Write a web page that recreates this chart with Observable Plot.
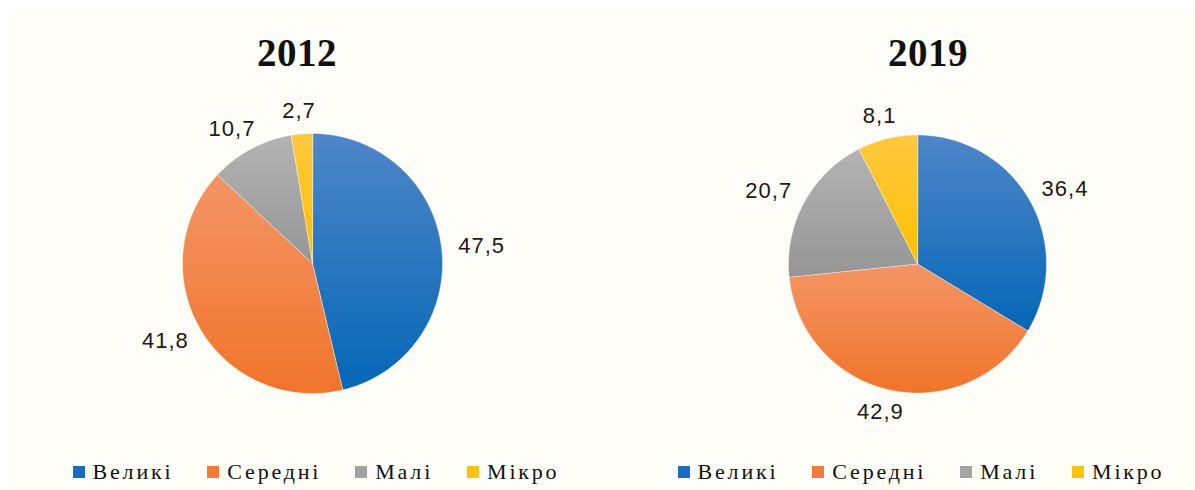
<!DOCTYPE html>
<html><head><meta charset="utf-8">
<script src="https://cdn.jsdelivr.net/npm/d3@7"></script>
<script src="https://cdn.jsdelivr.net/npm/@observablehq/plot@0.6"></script>
<style>
body{margin:0;background:#fff;width:1195px;height:490px;overflow:hidden;position:relative;font-family:"Liberation Serif",serif}
#frame{position:absolute;left:7px;top:10px;width:1188px;height:480px;background:#fffdf7}
.title{position:absolute;font-family:"Liberation Serif",serif;font-weight:bold;font-size:39px;line-height:39px;text-align:center;width:200px;color:#111;letter-spacing:0.5px}
.legend{position:absolute;width:600px;height:20px;display:flex;justify-content:center;align-items:center;gap:34px;font-family:"Liberation Serif","Times New Roman",serif;font-size:22px;line-height:20px;color:#111;white-space:nowrap}
.legend .sw{width:12px;height:12px;margin-right:8px;display:inline-block}
.legend .item{display:flex;align-items:center}
</style></head><body>
<div id="frame"></div>
<script>
// ---- data ----
const categories = ["Великі", "Середні", "Малі", "Мікро"];
const years = ["2012", "2019"];
const values2012 = [47.5, 41.8, 10.7, 2.7];
const values2019 = [36.4, 42.9, 20.7, 8.1];

// ---- styles / layout ----
const gradients = [["#4f86c8", "#0467b6"], ["#f49565", "#f0742a"], ["#b4b4b4", "#959595"], ["#ffc840", "#ffc000"]];
const swatches = ["#1a6dbd", "#f07c3c", "#a3a3a3", "#ffc20e"];
const panels = [
  {year: years[0], values: values2012, left: 0, W: 597, cx: 312, cy: 173, R: 130, titleCx: 297, legendCx: 316, ls: 2.8},
  {year: years[1], values: values2019, left: 597, W: 598, cx: 320, cy: 173.5, R: 129, titleCx: 928, legendCx: 921, ls: 2.8}
];
const H = 350;
const fmt = v => v.toFixed(1).replace(".", ",");

for (const p of panels) {
  const arcs = d3.pie().sort(null).startAngle(0).endAngle(2 * Math.PI)(p.values);
  const marks = [];
  arcs.forEach((a, i) => {
    const pts = [{x: 0, y: 0}];
    const n = Math.max(2, Math.ceil((a.endAngle - a.startAngle) / 0.01));
    for (let k = 0; k <= n; k++) {
      const t = a.startAngle + (a.endAngle - a.startAngle) * k / n;
      pts.push({x: Math.sin(t), y: Math.cos(t)});
    }
    marks.push(Plot.line(pts, {x: "x", y: "y", curve: "linear-closed",
      fill: `url(#g${p.year}-${i})`, stroke: "#ffffff", strokeWidth: 0.6, strokeOpacity: 0.7}));
  });
  const g = 12, h = 22;
  const labels = arcs.map((a, i) => {
    const m = (a.startAngle + a.endAngle) / 2;
    const s = Math.sin(m), c = Math.cos(m);
    const text = fmt(p.values[i]);
    const w = text.length * 11.8;
    const r = 1 + g / p.R;
    return {x: r * s + s * w * 0.6 / p.R, y: r * c + c * h / 2 / p.R, text};
  });
  marks.push(Plot.text(labels, {x: "x", y: "y", text: "text", fontFamily: "Liberation Sans, Arial, sans-serif",
    fontSize: 22, fill: "#1a1a1a", textAnchor: "middle", lineAnchor: "middle"}));

  const svg = Plot.plot({
    width: p.W, height: H, margin: 0,
    x: {domain: [-p.cx / p.R, (p.W - p.cx) / p.R], range: [0, p.W], axis: null},
    y: {domain: [-(H - p.cy) / p.R, p.cy / p.R], range: [H, 0], axis: null},
    style: {background: "transparent", letterSpacing: "1px", overflow: "visible"},
    marks
  });
  const defs = d3.select(svg).insert("defs", ":first-child");
  gradients.forEach((gc, i) => {
    const lg = defs.append("linearGradient").attr("id", `g${p.year}-${i}`)
      .attr("x1", 0).attr("y1", 0).attr("x2", 0).attr("y2", 1);
    lg.append("stop").attr("offset", 0).attr("stop-color", gc[0]);
    lg.append("stop").attr("offset", 1).attr("stop-color", gc[1]);
  });
  svg.style.left = p.left + "px";
  svg.style.top = "90px";
  svg.style.position = "absolute";
  document.body.appendChild(svg);

  const title = document.createElement("div");
  title.className = "title";
  title.textContent = p.year;
  title.style.left = (p.titleCx - 100) + "px";
  title.style.top = "33px";
  document.body.appendChild(title);

  const leg = document.createElement("div");
  leg.className = "legend";
  leg.style.left = (p.legendCx - 300) + "px";
  leg.style.top = "462px";
  leg.style.letterSpacing = p.ls + "px";
  categories.forEach((cat, i) => {
    const it = document.createElement("span");
    it.className = "item";
    const sw = document.createElement("span");
    sw.className = "sw";
    sw.style.background = swatches[i];
    it.appendChild(sw);
    it.appendChild(document.createTextNode(cat));
    leg.appendChild(it);
  });
  document.body.appendChild(leg);
}
</script>
</body></html>
